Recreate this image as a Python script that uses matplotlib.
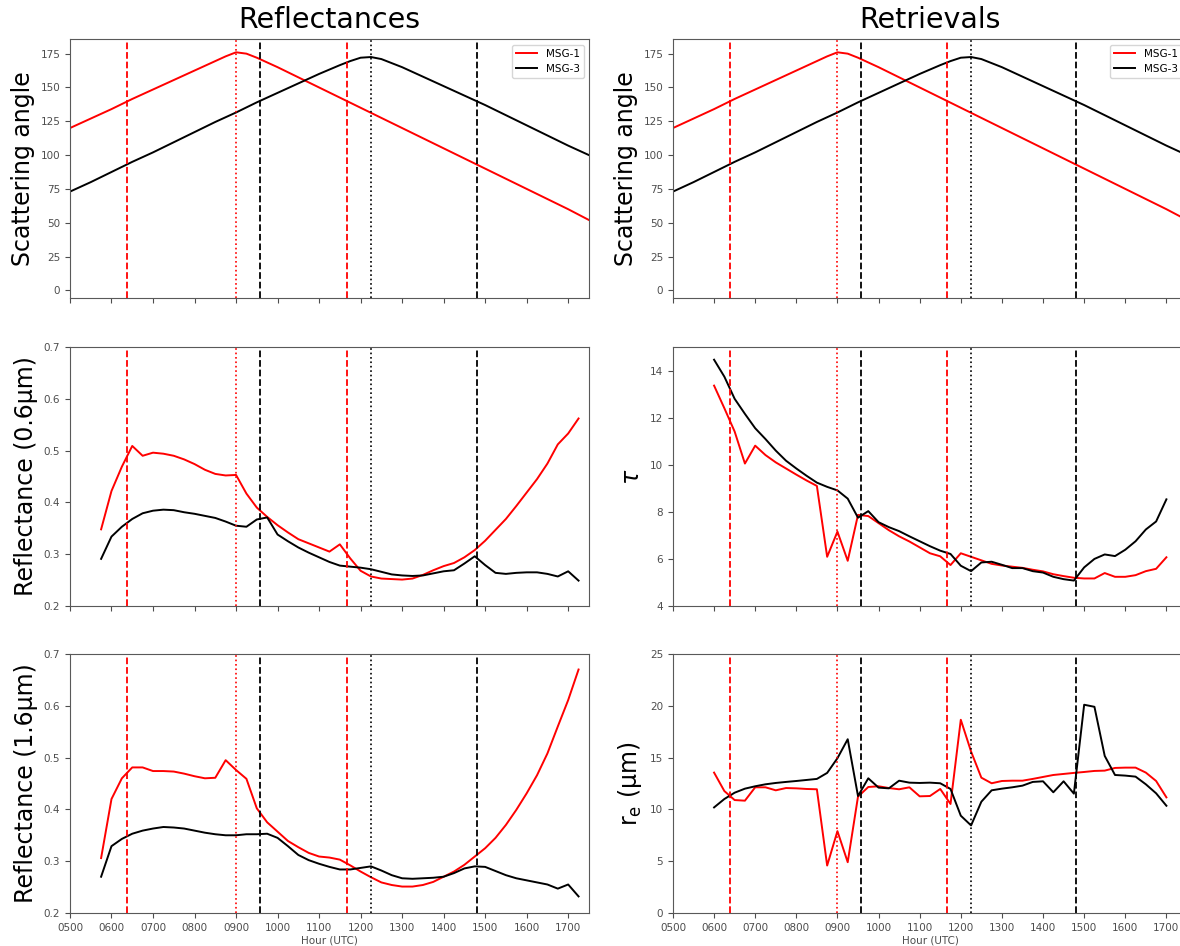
import numpy as np
import matplotlib
matplotlib.use("Agg")
import matplotlib.pyplot as plt

plt.rcParams['font.family'] = ['DejaVu Sans']
plt.rcParams['axes.edgecolor'] = '0.35'
plt.rcParams['xtick.color'] = '0.3'
plt.rcParams['ytick.color'] = '0.3'
plt.rcParams['xtick.labelsize'] = 7.5
plt.rcParams['ytick.labelsize'] = 7.5

# scattering angle (hourly-ish samples, decimal hours UTC)
angle_hours_1 = [5.0, 5.5, 6.0, 6.5, 7.0, 7.5, 8.0, 8.5, 8.75, 9.0, 9.25, 9.5, 10.0, 10.5,
                 11.0, 11.5, 12.0, 12.5, 13.0, 13.5, 14.0, 14.5, 15.0, 15.5, 16.0, 16.5, 17.0, 17.5]
angle_msg1 = [120, 127, 134, 141.5, 148.5, 155.5, 162.5, 169.5, 173, 176, 175, 172, 165, 157.5,
              150, 142.5, 135, 127.5, 120, 112.5, 105, 97.5, 90, 82.5, 75, 67.5, 60, 52]
angle_hours_3 = [5.0, 5.5, 6.0, 6.5, 7.0, 7.5, 8.0, 8.5, 9.0, 9.5, 10.0, 10.5, 11.0, 11.5,
                 11.75, 12.0, 12.25, 12.5, 13.0, 13.5, 14.0, 14.5, 15.0, 15.5, 16.0, 16.5, 17.0, 17.5]
angle_msg3 = [73, 80, 87.5, 95, 102, 109.5, 117, 124.5, 131.5, 139, 146, 153, 160, 166.5,
              169.5, 172, 172.5, 171, 165, 158, 151, 144, 137, 129.5, 122, 114.5, 107, 100]

# 15-minute slots: reflectances 0545-1715, retrievals 0600-1700
refl_hours = np.arange(5.75, 17.26, 0.25)
retr_hours = np.arange(6.0, 17.01, 0.25)

refl06_msg1 = [0.348, 0.422, 0.469, 0.509, 0.490, 0.496, 0.494, 0.490, 0.483, 0.474, 0.463, 0.455,
               0.452, 0.453, 0.417, 0.390, 0.372, 0.356, 0.342, 0.329, 0.321, 0.313, 0.305, 0.319,
               0.292, 0.268, 0.257, 0.253, 0.252, 0.251, 0.253, 0.260, 0.269, 0.277, 0.283, 0.294,
               0.308, 0.326, 0.347, 0.368, 0.393, 0.419, 0.445, 0.475, 0.512, 0.533, 0.562]
refl06_msg3 = [0.291, 0.334, 0.353, 0.368, 0.379, 0.384, 0.386, 0.385, 0.381, 0.378, 0.374, 0.370,
               0.363, 0.355, 0.353, 0.367, 0.371, 0.338, 0.325, 0.313, 0.303, 0.294, 0.285, 0.278,
               0.276, 0.274, 0.271, 0.266, 0.261, 0.259, 0.258, 0.259, 0.263, 0.267, 0.269, 0.282,
               0.296, 0.279, 0.264, 0.262, 0.264, 0.265, 0.265, 0.262, 0.257, 0.267, 0.249]
refl16_msg1 = [0.306, 0.420, 0.460, 0.481, 0.481, 0.474, 0.474, 0.473, 0.469, 0.464, 0.460, 0.461,
               0.495, 0.476, 0.459, 0.402, 0.375, 0.357, 0.339, 0.327, 0.316, 0.309, 0.307, 0.303,
               0.292, 0.280, 0.269, 0.259, 0.254, 0.251, 0.251, 0.254, 0.260, 0.270, 0.280, 0.293,
               0.309, 0.325, 0.345, 0.370, 0.399, 0.431, 0.466, 0.508, 0.560, 0.611, 0.670]
refl16_msg3 = [0.270, 0.329, 0.343, 0.353, 0.359, 0.363, 0.366, 0.365, 0.363, 0.359, 0.355, 0.352,
               0.350, 0.350, 0.352, 0.352, 0.353, 0.345, 0.329, 0.312, 0.302, 0.295, 0.289, 0.284,
               0.284, 0.287, 0.290, 0.282, 0.273, 0.267, 0.266, 0.267, 0.268, 0.270, 0.277, 0.286,
               0.290, 0.289, 0.281, 0.273, 0.267, 0.263, 0.259, 0.255, 0.247, 0.255, 0.232]

tau_msg1 = [13.36, 12.40, 11.41, 10.05, 10.81, 10.41, 10.10, 9.84, 9.58, 9.33, 9.10, 6.09,
            7.16, 5.92, 7.87, 7.82, 7.52, 7.22, 6.96, 6.74, 6.49, 6.24, 6.11, 5.74,
            6.24, 6.09, 5.94, 5.79, 5.72, 5.67, 5.62, 5.54, 5.47, 5.35, 5.27, 5.20,
            5.17, 5.17, 5.40, 5.24, 5.24, 5.31, 5.48, 5.58, 6.07]
tau_msg3 = [14.46, 13.74, 12.80, 12.16, 11.55, 11.09, 10.60, 10.17, 9.84, 9.53, 9.24, 9.06,
            8.91, 8.56, 7.75, 8.03, 7.56, 7.35, 7.18, 6.96, 6.75, 6.54, 6.35, 6.21,
            5.71, 5.48, 5.85, 5.88, 5.75, 5.61, 5.61, 5.48, 5.42, 5.24, 5.14, 5.08,
            5.64, 6.00, 6.19, 6.12, 6.39, 6.75, 7.25, 7.59, 8.53]
re_msg1 = [13.55, 11.77, 10.90, 10.84, 12.13, 12.13, 11.84, 12.06, 12.03, 11.97, 11.94, 4.58,
           7.90, 4.90, 11.23, 12.16, 12.23, 12.06, 11.94, 12.13, 11.26, 11.29, 11.97, 10.52,
           18.65, 15.58, 13.06, 12.52, 12.74, 12.77, 12.77, 12.94, 13.13, 13.32, 13.42, 13.52,
           13.61, 13.71, 13.74, 14.00, 14.03, 14.03, 13.55, 12.74, 11.16]
re_msg3 = [10.19, 11.00, 11.61, 12.00, 12.23, 12.42, 12.55, 12.65, 12.74, 12.84, 12.94, 13.52,
           14.94, 16.77, 11.29, 13.00, 12.10, 12.03, 12.77, 12.58, 12.55, 12.58, 12.52, 11.97,
           9.39, 8.45, 10.74, 11.84, 12.00, 12.13, 12.29, 12.65, 12.71, 11.65, 12.71, 11.52,
           20.10, 19.90, 15.16, 13.32, 13.26, 13.16, 12.42, 11.55, 10.35]

# times where the scattering angle hits 140 deg (dashed) and its maximum (dotted)
msg1_140 = [6.383, 11.667]
msg1_peak = 9.0
msg3_140 = [9.567, 14.8]
msg3_peak = 12.25

hour_ticks = list(range(5, 18))
hour_labels = ['%02d00' % h for h in hour_ticks]

fig = plt.figure(figsize=(11.8, 9.46), dpi=100)

col_left = [0.0593, 0.5703]
col_width = [0.4398, 0.4356]
row_bottom = [0.6845, 0.3594, 0.0349]
row_height = 0.2738

axes = [[fig.add_axes([col_left[c], row_bottom[r], col_width[c], row_height]) for c in range(2)]
        for r in range(3)]


def mark_times(ax):
    for t in msg1_140:
        ax.axvline(t, color='red', ls='--', lw=1.3)
    ax.axvline(msg1_peak, color='red', ls=':', lw=1.2)
    for t in msg3_140:
        ax.axvline(t, color='k', ls='--', lw=1.3)
    ax.axvline(msg3_peak, color='k', ls=':', lw=1.2)


for c in range(2):
    ax = axes[0][c]
    ax.plot(angle_hours_1, angle_msg1, color='red', lw=1.4, label='MSG-1')
    ax.plot(angle_hours_3, angle_msg3, color='k', lw=1.4, label='MSG-3')
    ax.set_ylim(-6, 185.5)
    ax.set_yticks(range(0, 176, 25))
    ax.set_ylabel('Scattering angle', fontsize=17)
    ax.legend(loc='upper right', fontsize=7.5)

axes[0][0].set_title('Reflectances', fontsize=20.5, pad=8)
axes[0][1].set_title('Retrievals', fontsize=20.5, pad=8)

ax = axes[1][0]
ax.plot(refl_hours, refl06_msg1, color='red', lw=1.4)
ax.plot(refl_hours, refl06_msg3, color='k', lw=1.4)
ax.set_ylim(0.2, 0.7)
ax.set_ylabel('Reflectance (0.6µm)', fontsize=17)

ax = axes[2][0]
ax.plot(refl_hours, refl16_msg1, color='red', lw=1.4)
ax.plot(refl_hours, refl16_msg3, color='k', lw=1.4)
ax.set_ylim(0.2, 0.7)
ax.set_ylabel('Reflectance (1.6µm)', fontsize=17)

ax = axes[1][1]
ax.plot(retr_hours, tau_msg1, color='red', lw=1.4)
ax.plot(retr_hours, tau_msg3, color='k', lw=1.4)
ax.set_ylim(4, 15)
ax.set_yticks(range(4, 15, 2))
ax.set_ylabel(r'$\tau$', fontsize=17)

ax = axes[2][1]
ax.plot(retr_hours, re_msg1, color='red', lw=1.4)
ax.plot(retr_hours, re_msg3, color='k', lw=1.4)
ax.set_ylim(0, 25)
ax.set_yticks(range(0, 26, 5))
ax.set_ylabel(r'$\mathregular{r_e}$ (µm)', fontsize=17)

for r in range(3):
    for c in range(2):
        ax = axes[r][c]
        mark_times(ax)
        ax.set_xlim(5, 17.5)
        ax.set_xticks(hour_ticks)
        if r == 2:
            ax.set_xticklabels(hour_labels)
            ax.set_xlabel('Hour (UTC)', fontsize=7.5, color='0.3', labelpad=2)
        else:
            ax.set_xticklabels([])

fig.savefig('out.png', dpi=100)
